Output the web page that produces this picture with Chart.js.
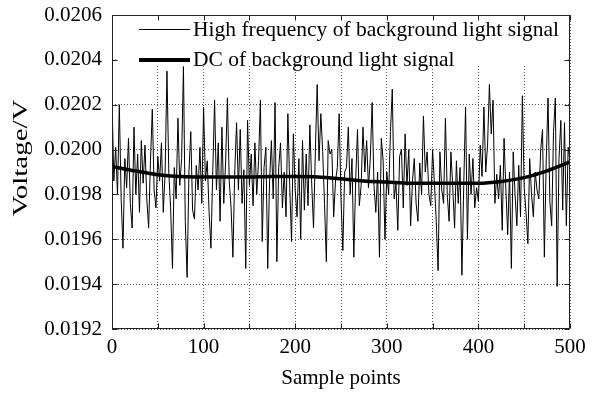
<!DOCTYPE html>
<html lang="en">
<head>
<meta charset="UTF-8">
<title>Background light signal</title>
<style>
  html, body { margin: 0; padding: 0; background: #fff; }
  #wrap { width: 596px; height: 395px; }
</style>
</head>
<body>
<div id="wrap"><canvas id="signalChart" width="596" height="395"></canvas></div>
<script src="https://cdn.jsdelivr.net/npm/chart.js"></script>
<script>
// high frequency signal, read every 2nd sample point (0..500)
const sampleStep = 2;
const hfValues = [
  0.02023, 0.01986, 0.02001, 0.01980, 0.02020, 0.01978, 0.01956, 0.01996, 0.01983, 0.02005,
  0.01976, 0.01965, 0.02010, 0.01980, 0.01998, 0.01972, 0.02004, 0.01985, 0.02002, 0.01978,
  0.01965, 0.01995, 0.02018, 0.01982, 0.01974, 0.01997, 0.01986, 0.02003, 0.01972, 0.01990,
  0.02035, 0.01990, 0.01974, 0.01947, 0.01992, 0.01978, 0.02014, 0.01984, 0.01996, 0.02037,
  0.01968, 0.01943, 0.01990, 0.02008, 0.01973, 0.01969, 0.01993, 0.01982, 0.02001, 0.01976,
  0.02019, 0.01986, 0.01995, 0.01972, 0.01956, 0.01990, 0.02022, 0.01982, 0.02003, 0.01968,
  0.02010, 0.01976, 0.01994, 0.02023, 0.01986, 0.01974, 0.01952, 0.01990, 0.02012, 0.01982,
  0.02009, 0.01976, 0.01991, 0.01947, 0.02013, 0.01984, 0.01998, 0.01975, 0.02003, 0.01980,
  0.01995, 0.02022, 0.01959, 0.01992, 0.02001, 0.01947, 0.01986, 0.02004, 0.01978, 0.02021,
  0.01950, 0.01992, 0.02003, 0.01974, 0.01990, 0.01970, 0.02016, 0.01984, 0.01959, 0.02007,
  0.01982, 0.01970, 0.01996, 0.01960, 0.02004, 0.01973, 0.01998, 0.01975, 0.02011, 0.01985,
  0.01965, 0.01999, 0.02029, 0.01995, 0.02016, 0.01999, 0.01976, 0.01950, 0.02004, 0.01998,
  0.02000, 0.01970, 0.01986, 0.01992, 0.02016, 0.01978, 0.01955, 0.01990, 0.01992, 0.02010,
  0.01980, 0.01996, 0.01952, 0.01986, 0.02009, 0.01975, 0.01984, 0.02010, 0.01990, 0.02004,
  0.01983, 0.01996, 0.02021, 0.01984, 0.01972, 0.01990, 0.01952, 0.02005, 0.01995, 0.01960,
  0.01990, 0.01980, 0.02008, 0.02027, 0.01978, 0.01985, 0.01964, 0.01997, 0.02000, 0.01974,
  0.02007, 0.01984, 0.02000, 0.01966, 0.01986, 0.01996, 0.01976, 0.01968, 0.01994, 0.01980,
  0.02015, 0.01990, 0.01999, 0.01980, 0.01975, 0.02000, 0.01985, 0.01968, 0.01946, 0.01999,
  0.01982, 0.01976, 0.02014, 0.01980, 0.01968, 0.01999, 0.01983, 0.01965, 0.01995, 0.01976,
  0.01992, 0.01944, 0.01984, 0.02019, 0.01960, 0.01998, 0.01980, 0.01996, 0.01974, 0.01983,
  0.01977, 0.02002, 0.01988, 0.02019, 0.01990, 0.02002, 0.02029, 0.02007, 0.02022, 0.01976,
  0.01989, 0.01978, 0.01993, 0.01964, 0.02005, 0.01982, 0.01962, 0.01990, 0.01947, 0.01999,
  0.01980, 0.01966, 0.01993, 0.01970, 0.02024, 0.01983, 0.01972, 0.01958, 0.01996, 0.01980,
  0.01970, 0.01990, 0.01982, 0.01978, 0.02000, 0.02009, 0.01952, 0.01994, 0.02023, 0.01977,
  0.01966, 0.02008, 0.02023, 0.01939, 0.01996, 0.02013, 0.01973, 0.02012, 0.01966, 0.02001,
  0.01995
];

// DC component, read every 25 samples
const dcSamples = [0, 25, 50, 75, 100, 125, 150, 175, 200, 225, 250, 275, 300, 325, 350, 375, 400, 425, 450, 475, 500];
const dcValues = [0.019925, 0.019905, 0.019888, 0.01988, 0.019878, 0.019878, 0.019878, 0.01988, 0.01988, 0.019878,
  0.01987, 0.01986, 0.019855, 0.01985, 0.01985, 0.01985, 0.01985, 0.019858, 0.019875, 0.019905, 0.019945];

const xTickLabels = ['0', '100', '200', '300', '400', '500'];
const legendLabels = ['High frequency of background light signal', 'DC of background light signal'];
const xTitle = 'Sample points';
const yTitle = 'Voltage/V';

const FONT = '"Liberation Serif", "Times New Roman", serif';

const hfPoints = hfValues.map((v, i) => ({ x: i * sampleStep, y: v }));
const dcPoints = dcValues.map((v, i) => ({ x: dcSamples[i], y: v }));

// matlab style box, inward ticks, legend and y label
const matlabFrame = {
  id: 'matlabFrame',
  afterDraw(chart) {
    const { ctx, chartArea: a, scales: { x, y } } = chart;
    const L = Math.round(a.left) + 0.5, R = Math.round(a.right) - 0.5;
    const T = Math.round(a.top) + 0.5, B = Math.round(a.bottom) - 0.5;
    ctx.save();

    // legend box (white, sits on top of the lines)
    ctx.fillStyle = '#fff';
    ctx.fillRect(L + 3, T + 1, R - L - 4, 49);
    ctx.strokeStyle = '#000';
    ctx.lineWidth = 1;
    ctx.beginPath(); ctx.moveTo(139, 29.5); ctx.lineTo(190, 29.5); ctx.stroke();
    ctx.lineWidth = 4;
    ctx.beginPath(); ctx.moveTo(139, 60); ctx.lineTo(190, 60); ctx.stroke();
    ctx.fillStyle = '#000';
    ctx.font = '21.5px ' + FONT;
    ctx.textBaseline = 'middle';
    ctx.textAlign = 'left';
    ctx.fillText(legendLabels[0], 193, 30);
    ctx.fillText(legendLabels[1], 193, 60);

    // box
    ctx.lineWidth = 1;
    ctx.strokeStyle = '#222';
    ctx.strokeRect(L, T, R - L, B - T);

    // inward ticks on all four sides
    ctx.beginPath();
    x.ticks.forEach(t => {
      const px = Math.round(x.getPixelForValue(t.value)) + 0.5;
      ctx.moveTo(px, B); ctx.lineTo(px, B - 5);
      ctx.moveTo(px, T); ctx.lineTo(px, T + 5);
    });
    y.ticks.forEach(t => {
      const py = Math.round(y.getPixelForValue(t.value)) + 0.5;
      ctx.moveTo(L, py); ctx.lineTo(L + 5, py);
      ctx.moveTo(R, py); ctx.lineTo(R - 5, py);
    });
    ctx.stroke();

    // y axis title (stretched along its length like the original figure)
    ctx.font = '21px ' + FONT;
    ctx.translate(21, 158);
    ctx.rotate(-Math.PI / 2);
    ctx.scale(1.38, 1);
    ctx.textAlign = 'center';
    ctx.fillText(yTitle, 0, 0);
    ctx.restore();
  }
};

new Chart(document.getElementById('signalChart'), {
  type: 'line',
  data: {
    datasets: [
      {
        label: legendLabels[0],
        data: hfPoints,
        borderColor: '#000',
        borderWidth: 1,
        pointRadius: 0,
        tension: 0,
        order: 2
      },
      {
        label: legendLabels[1],
        data: dcPoints,
        borderColor: '#000',
        borderWidth: 3.5,
        pointRadius: 0,
        cubicInterpolationMode: 'monotone',
        order: 1
      }
    ]
  },
  options: {
    responsive: false,
    animation: false,
    devicePixelRatio: 1,
    layout: { padding: { top: 15, right: 26, left: 0, bottom: 0 } },
    plugins: { legend: { display: false }, tooltip: { enabled: false } },
    scales: {
      x: {
        type: 'linear',
        min: 0,
        max: 500,
        afterFit: s => { s.height = 66; s.paddingLeft = 0; s.paddingRight = 0; },
        ticks: {
          stepSize: 50,
          autoSkip: false,
          maxRotation: 0,
          padding: 6,
          color: '#000',
          font: { family: FONT, size: 21 },
          callback: v => xTickLabels.includes(String(v)) ? String(v) : ''
        },
        grid: { color: '#555', lineWidth: 1, drawTicks: false },
        border: { display: false, dash: [1, 2] },
        title: {
          display: true,
          text: xTitle,
          color: '#000',
          font: { family: FONT, size: 21 },
          padding: { top: 0, bottom: 4 }
        }
      },
      y: {
        min: 0.0192,
        max: 0.0206,
        afterFit: s => { s.width = 112; s.paddingTop = 0; s.paddingBottom = 0; },
        ticks: {
          stepSize: 0.0002,
          padding: 10,
          color: '#000',
          font: { family: FONT, size: 21 },
          callback: v => v.toFixed(4)
        },
        grid: { color: '#555', lineWidth: 1, drawTicks: false },
        border: { display: false, dash: [1, 2] }
      }
    }
  },
  plugins: [matlabFrame]
});
</script>
</body>
</html>
